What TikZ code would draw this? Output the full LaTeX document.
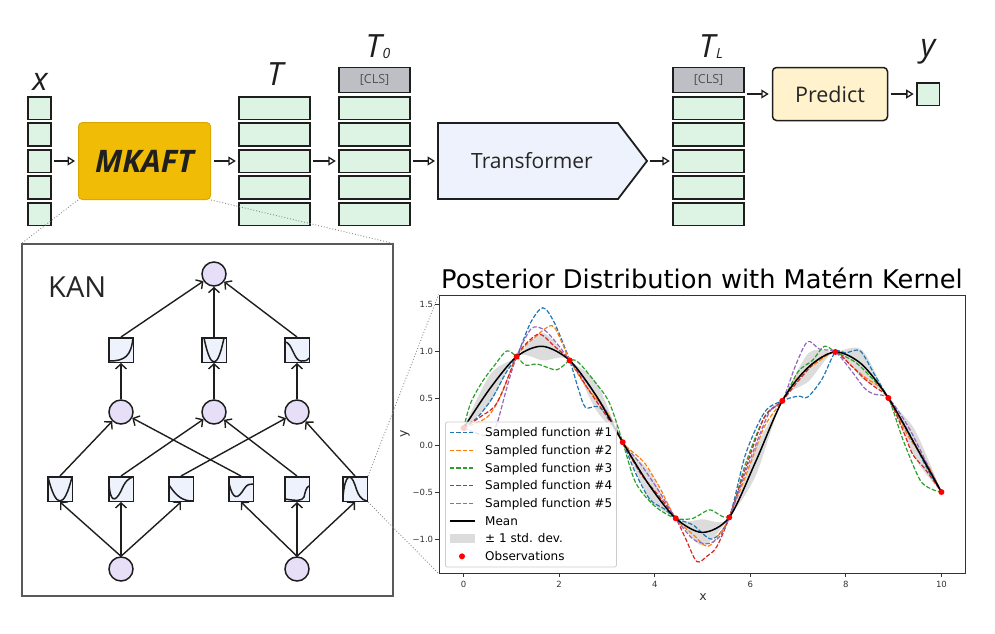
\documentclass[tikz,border=0pt]{standalone}
\usepackage{fontspec}
\setmainfont{Open Sans}
\newfontfamily\dejavu{DejaVu Sans}
\usetikzlibrary{arrows.meta}
\definecolor{strokec}{HTML}{1E1E1E}
\definecolor{cellg}{HTML}{DDF3E3}
\definecolor{clsg}{HTML}{BDBFC4}
\definecolor{goldf}{HTML}{F0BC05}
\definecolor{goldd}{HTML}{D9A900}
\definecolor{transf}{HTML}{EDF2FC}
\definecolor{predf}{HTML}{FFF2CC}
\definecolor{lavf}{HTML}{E7DEF8}
\definecolor{sqf}{HTML}{EDF2FC}
\definecolor{mplblue}{HTML}{1F77B4}
\definecolor{mplorange}{HTML}{FF7F0E}
\definecolor{mplgreen}{HTML}{2CA02C}
\definecolor{mplred}{HTML}{D62728}
\definecolor{mplpurple}{HTML}{9467BD}
\definecolor{bandg}{HTML}{DCDCDC}
\definecolor{zoomg}{HTML}{8A8A8A}
\definecolor{axg}{HTML}{333333}
\newcommand\fs[1]{\fontsize{#1}{#1}\selectfont}
\newcommand\kglyph[2]{\begin{scope}[shift={(#1.center)}]\clip (-12.2,-12.2) rectangle (12.2,12.2);\draw[glyphst] #2;\end{scope}}
\begin{document}
\begin{tikzpicture}[x=1pt,y=-1pt,
  cell/.style={draw=strokec,line width=1.6,fill=cellg,inner sep=0,outer sep=0,minimum height=22.6},
  clscell/.style={cell,fill=clsg,minimum height=25,font=\fs{12.5},text=black!68},
  arr/.style={draw=strokec,line width=1.5,-{Triangle[open,length=7.5pt,width=9pt,line width=1.3pt]},shorten <=3pt,shorten >=3pt},
  lab/.style={font=\fs{32}\itshape,text=strokec,inner sep=0,anchor=base},
  kcirc/.style={circle,draw=strokec,line width=1.5,fill=lavf,minimum size=24,inner sep=0},
  ksq/.style={rectangle,draw=strokec,line width=1.5,fill=sqf,minimum size=24.5,inner sep=0},
  karr/.style={draw=strokec,line width=1.4,-{Straight Barb[length=5pt,width=11pt]}},
  glyphst/.style={draw=strokec,line width=1.5},
  zoomline/.style={draw=zoomg,line width=0.9,dotted},
  samp/.style={line width=1.2,dash pattern=on 4.4pt off 1.9pt},
  tickl/.style={font=\dejavu\fs{8.5},text=axg,inner sep=0},
  legt/.style={font=\dejavu\fs{12},anchor=base west,inner sep=0},
]
\useasboundingbox (0,0) rectangle (995,633);

% ---------------- top row ----------------
\foreach \i/\yy in {1/108,2/134.5,3/161,4/187.5,5/214}{
  \node[cell,minimum width=23.4] (x\i) at (39.5,\yy) {};
  \node[cell,minimum width=71.4] (t\i) at (274.5,\yy) {};
  \node[cell,minimum width=71.4] (p\i) at (374.5,\yy) {};
  \node[cell,minimum width=71.4] (q\i) at (708.5,\yy) {};
}
\node[clscell,minimum width=71.4] (pcls) at (374.5,80) {{[CLS]}};
\node[clscell,minimum width=71.4] (qcls) at (708.5,80) {{[CLS]}};

\node[lab] (xl) at (40,90) {x};
\node[lab] (tlab) at (275,85) {T};
\node[lab] (t0lab) at (378,57) {T\hspace{1pt}\raisebox{-1pt}{\fs{14}0}};
\node[lab] (tLlab) at (711,57) {T\hspace{1pt}\raisebox{-1pt}{\fs{14}L}};
\node[lab] (ylab) at (928,56) {y};

\node[draw=goldd,line width=1,fill=goldf,rounded corners=4,minimum width=132,minimum height=77,
      font=\fs{31}\bfseries\itshape,text=black!88] (mkaft) at (144.5,161) {MKAFT};

\draw[strokec,line width=1.8,fill=transf] (438,123) -- (618,123) -- (647,161) -- (618,199) -- (438,199) -- cycle;
\node[font=\fs{21},text=black!85] (trans) at (532,161) {Transformer};
\coordinate (tleft) at (438,161);
\coordinate (ttip) at (647,161);

\node[draw=strokec,line width=1.5,fill=predf,rounded corners=4,minimum width=115,minimum height=53,
      font=\fs{21.5},text=black!85] (pred) at (830,94) {Predict};
\node[cell,minimum width=22.6] (yc) at (928,94) {};

\draw[arr] (x3) -- (mkaft);
\draw[arr] (mkaft) -- (t3);
\draw[arr] (t3) -- (p3);
\draw[arr] (p3) -- (tleft);
\draw[arr] (ttip) -- (q3);
\draw[arr] (pred.west -| qcls.east) -- (pred.west);
\draw[arr] (pred) -- (yc);

% ---------------- KAN panel ----------------
\node[draw=black!65,line width=1.1,minimum width=371,minimum height=352,inner sep=0] (kanbox) at (207.5,420) {};
\node[font=\fs{29},text=black!85,anchor=base west,inner sep=0] (kant) at (48,297) {KAN};

\node[kcirc] (k0) at (214,274) {};
\node[ksq] (u1) at (121,350) {};
\node[ksq] (u2) at (214,350) {};
\node[ksq] (u3) at (297,350) {};
\node[kcirc] (m1) at (121,412) {};
\node[kcirc] (m2) at (214,412) {};
\node[kcirc] (m3) at (297,412) {};
\node[ksq] (l1) at (60,489) {};
\node[ksq] (l2) at (121,489) {};
\node[ksq] (l3) at (181,489) {};
\node[ksq] (l4) at (241,489) {};
\node[ksq] (l5) at (297,489) {};
\node[ksq] (l6) at (355,489) {};
\node[kcirc] (b1) at (121,569) {};
\node[kcirc] (b2) at (297,569) {};

\kglyph{u1}{(-12,11) .. controls (4,11) and (10,6) .. (12,-12)}
\kglyph{u2}{(-10,-12) .. controls (-3.3,20) and (3.3,20) .. (10,-12)}
\kglyph{u3}{(-12,-8) .. controls (-5,-8) and (-3,11) .. (4,11) .. controls (8,11) and (10,11) .. (12,8)}
\kglyph{l1}{(-12,-12) .. controls (-4,20) and (4,20) .. (12,-12)}
\kglyph{l2}{(-12,-6) .. controls (-11,13) and (-6,14) .. (0,2) .. controls (4,-8) and (8,-11) .. (12,-12)}
\kglyph{l3}{(-12,-4) .. controls (-4,8) and (2,12) .. (12,12)}
\kglyph{l4}{(-12,-6) .. controls (-8,12) and (-3,10) .. (3,0) .. controls (6,-5) and (9,-5) .. (12,-5)}
\kglyph{l5}{(-12,10) .. controls (0,12) and (5,12) .. (7,8) .. controls (8,4) and (9,-2) .. (12,-3)}
\kglyph{l6}{(-12,8) .. controls (-10,-16) and (-4,-16) .. (0,-4) .. controls (3,6) and (6,11) .. (12,12)}

\foreach \s in {l1,l2,l3} \draw[karr] (b1.north) -- (\s.south);
\foreach \s in {l4,l5,l6} \draw[karr] (b2.north) -- (\s.south);
\draw[karr] (l1.north) -- (m1);
\draw[karr] (l2.north) -- (m2);
\draw[karr] (l3.north) -- (m3);
\draw[karr] (l4.north) -- (m1);
\draw[karr] (l5.north) -- (m2);
\draw[karr] (l6.north) -- (m3);
\draw[karr] (m1) -- (u1);
\draw[karr] (m2) -- (u2);
\draw[karr] (m3) -- (u3);
\draw[karr] (u1.north) -- (k0);
\draw[karr] (u2.north) -- (k0);
\draw[karr] (u3.north) -- (k0);

% ---------------- plot ----------------
\node[font=\dejavu\fs{25.7},anchor=base,inner sep=0] (title) at (702,288) {Posterior Distribution with Matérn Kernel};
\node[draw=axg,line width=0.9,minimum width=526,minimum height=278,inner sep=0] (axes) at (702,434) {};

\begin{scope}[shift={(463.6,445)},x=47.78pt,y=94pt]
 \begin{scope}
  \clip (-0.5,-1.35) rectangle (10.5,1.6);
  \fill[bandg] plot[smooth] coordinates {(0,0.18)(0.555,0.75)(1.11,0.94)(1.665,1.19)(2.22,0.90)(2.775,0.67)(3.33,0.03)(3.885,-0.28)(4.44,-0.78)(5.0,-0.79)(5.56,-0.77)(6.11,-0.03)(6.67,0.47)(7.225,0.98)(7.78,0.99)(8.335,1.01)(8.89,0.50)(9.445,0.16)(10,-0.50)}
    -- plot[smooth] coordinates {(10,-0.50)(9.445,-0.14)(8.89,0.50)(8.335,0.71)(7.78,0.99)(7.225,0.68)(6.67,0.47)(6.11,-0.33)(5.56,-0.77)(5.0,-1.07)(4.44,-0.78)(3.885,-0.58)(3.33,0.03)(2.775,0.37)(2.22,0.90)(1.665,0.90)(1.11,0.94)(0.555,0.45)(0,0.18)} -- cycle;
  \draw[samp,mplblue] plot[smooth] coordinates {(0,0.18)(0.3,0.3)(0.6,0.5)(0.9,0.78)(1.11,0.94)(1.4,1.3)(1.66,1.46)(1.9,1.3)(2.22,0.9)(2.4,0.6)(2.55,0.4)(2.8,0.41)(3.05,0.3)(3.33,0.03)(3.6,-0.3)(3.9,-0.58)(4.2,-0.68)(4.44,-0.78)(4.8,-0.85)(5.2,-1.0)(5.56,-0.77)(5.9,-0.1)(6.3,0.35)(6.67,0.47)(7.0,0.52)(7.2,0.51)(7.5,0.7)(7.78,0.99)(8.0,0.98)(8.3,1.0)(8.6,0.75)(8.89,0.50)(9.3,0.15)(9.7,-0.25)(10,-0.50)};
  \draw[samp,mplorange] plot[smooth] coordinates {(0,0.18)(0.5,0.3)(0.8,0.55)(1.11,0.94)(1.5,1.15)(1.85,1.27)(2.05,1.1)(2.22,0.9)(2.6,0.6)(3.0,0.35)(3.33,0.03)(3.6,-0.1)(3.8,-0.2)(4.1,-0.45)(4.44,-0.78)(4.8,-0.95)(5.1,-1.08)(5.35,-0.95)(5.56,-0.77)(6.0,-0.2)(6.3,0.2)(6.67,0.47)(7.0,0.72)(7.4,0.88)(7.78,0.99)(8.1,0.85)(8.4,0.72)(8.7,0.62)(8.89,0.50)(9.3,0.1)(9.7,-0.2)(10,-0.50)};
  \draw[samp,mplgreen] plot[smooth] coordinates {(0,0.18)(0.15,0.45)(0.4,0.68)(0.65,0.85)(0.9,1.0)(1.11,0.94)(1.3,0.85)(1.55,0.86)(1.95,0.8)(2.22,0.9)(2.4,0.88)(2.75,0.67)(3.05,0.45)(3.33,0.03)(3.6,-0.4)(4.0,-0.65)(4.44,-0.78)(4.8,-0.78)(5.15,-0.69)(5.56,-0.75)(5.9,-0.2)(6.3,0.3)(6.67,0.47)(7.0,0.78)(7.3,0.9)(7.55,1.05)(7.78,0.99)(8.2,0.88)(8.6,0.68)(8.89,0.50)(9.2,0.05)(9.55,-0.37)(9.8,-0.47)(10,-0.50)};
  \draw[samp,mplred] plot[smooth] coordinates {(0,0.18)(0.35,0.3)(0.7,0.45)(1.11,0.94)(1.35,1.1)(1.6,1.18)(1.9,1.05)(2.22,0.9)(2.6,0.6)(3.0,0.3)(3.33,0.03)(3.7,-0.3)(4.1,-0.55)(4.44,-0.78)(4.65,-1.0)(4.88,-1.24)(5.1,-1.18)(5.3,-1.08)(5.56,-0.77)(5.9,-0.25)(6.3,0.3)(6.67,0.47)(7.0,0.68)(7.4,0.9)(7.78,0.99)(8.1,0.85)(8.4,0.7)(8.6,0.62)(8.89,0.50)(9.2,0.15)(9.4,-0.1)(9.65,-0.25)(10,-0.50)};
  \draw[samp,mplpurple] plot[smooth] coordinates {(0,0.18)(0.3,0.12)(0.55,0.1)(0.7,0.23)(0.9,0.6)(1.11,0.94)(1.42,1.24)(1.7,1.22)(2.0,1.05)(2.22,0.9)(2.6,0.65)(3.0,0.35)(3.33,0.03)(3.7,-0.2)(4.1,-0.5)(4.44,-0.78)(4.8,-1.0)(5.1,-1.05)(5.35,-0.98)(5.56,-0.77)(6.0,-0.15)(6.4,0.35)(6.67,0.47)(6.95,0.85)(7.2,1.1)(7.45,1.02)(7.78,0.99)(8.1,0.8)(8.4,0.6)(8.6,0.54)(8.89,0.50)(9.3,0.2)(9.7,-0.2)(10,-0.50)};
  \draw[black,line width=1.5] plot[smooth] coordinates {(0,0.18)(0.55,0.6)(1.11,0.94)(1.65,1.05)(2.22,0.90)(2.78,0.52)(3.33,0.03)(3.89,-0.43)(4.44,-0.78)(5.0,-0.93)(5.56,-0.77)(6.11,-0.18)(6.67,0.47)(7.22,0.83)(7.78,0.99)(8.33,0.86)(8.89,0.50)(9.44,0.01)(10,-0.50)};
  \foreach \a/\b in {0/0.18,1.11/0.94,2.22/0.90,3.33/0.03,4.44/-0.78,5.56/-0.77,6.67/0.47,7.78/0.99,8.89/0.50,10/-0.50}
    \fill[red] (\a,\b) circle[radius=3pt];
 \end{scope}
 \foreach \v in {0,2,4,6,8,10}
   \draw[axg,line width=0.8] (\v,0 |- axes.south) -- ++(0,-3.5pt) node[tickl,anchor=north,yshift=-3.5pt] (xt\v) {\v};
 \foreach \v/\t [count=\k] in {-1/−1.0,-0.5/−0.5,0/0.0,0.5/0.5,1/1.0,1.5/1.5}
   \draw[axg,line width=0.8] (axes.west |- 0,\v) -- ++(-3.5pt,0) node[tickl,anchor=east,xshift=-1.5pt] (yt\k) {\t};
\end{scope}
\node[font=\dejavu\fs{12.5},anchor=base,inner sep=0,text=axg] (xaxl) at (703,600.5) {x};
\node[font=\dejavu\fs{12.5},rotate=90,inner sep=0,text=axg] (yaxl) at (405,434) {y};

% legend
\node[draw=black!20,line width=0.8,fill=white,fill opacity=0.8,rounded corners=2,minimum width=171,minimum height=145,inner sep=0] (leg) at (531,494.5) {};
\draw[samp,line width=1.3,mplblue] (450,432.7) -- (475,432.7);
\draw[samp,line width=1.3,mplorange] (450,450.4) -- (475,450.4);
\draw[samp,line width=1.3,mplgreen] (450,468.0) -- (475,468.0);
\draw[samp,line width=1.3,mplred] (450,485.7) -- (475,485.7);
\draw[samp,line width=1.3,mplpurple] (450,503.4) -- (475,503.4);
\draw[black,line width=1.5] (450,521.0) -- (475,521.0);
\fill[bandg] (450,533.7) rectangle (475,543.3);
\fill[red] (462,556.3) circle[radius=3pt];
\node[legt] (lg1) at (485,436.7) {Sampled function \#1};
\node[legt] (lg2) at (485,454.4) {Sampled function \#2};
\node[legt] (lg3) at (485,472.0) {Sampled function \#3};
\node[legt] (lg4) at (485,489.7) {Sampled function \#4};
\node[legt] (lg5) at (485,507.4) {Sampled function \#5};
\node[legt] (lg6) at (485,525.0) {Mean};
\node[legt] (lg7) at (485,542.7) {± 1 std. dev.};
\node[legt] (lg8) at (485,560.3) {Observations};

% zoom guides
\draw[zoomline] (mkaft.south west) -- (kanbox.north west);
\draw[zoomline] (mkaft.south east) -- (kanbox.north east);
\draw[zoomline] (l6.north east) -- (axes.north west);
\draw[zoomline] (l6.south east) -- (axes.south west);
\end{tikzpicture}
\end{document}
